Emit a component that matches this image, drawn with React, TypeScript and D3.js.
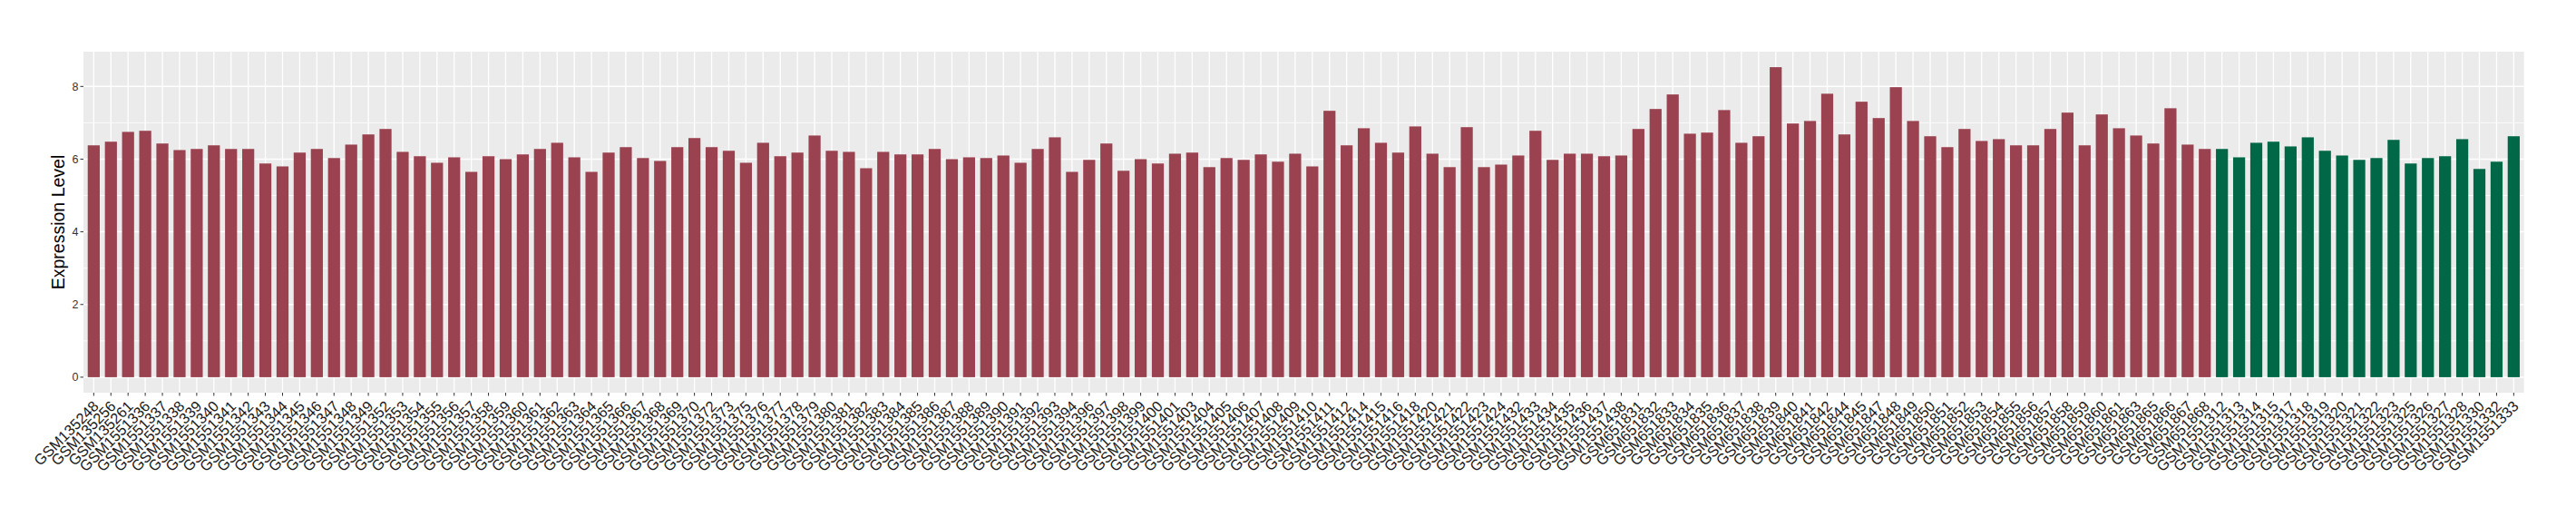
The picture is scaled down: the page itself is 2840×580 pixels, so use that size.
import React from "react";
import * as d3 from "d3";

// Group 1 (red) samples and expression values
const redSamples = [
  "GSM135248", "GSM135256", "GSM135261", "GSM1551336", "GSM1551337", "GSM1551338", "GSM1551339", "GSM1551340",
  "GSM1551341", "GSM1551342", "GSM1551343", "GSM1551344", "GSM1551345", "GSM1551346", "GSM1551347", "GSM1551348",
  "GSM1551349", "GSM1551352", "GSM1551353", "GSM1551354", "GSM1551355", "GSM1551356", "GSM1551357", "GSM1551358",
  "GSM1551359", "GSM1551360", "GSM1551361", "GSM1551362", "GSM1551363", "GSM1551364", "GSM1551365", "GSM1551366",
  "GSM1551367", "GSM1551368", "GSM1551369", "GSM1551370", "GSM1551372", "GSM1551373", "GSM1551375", "GSM1551376",
  "GSM1551377", "GSM1551378", "GSM1551379", "GSM1551380", "GSM1551381", "GSM1551382", "GSM1551383", "GSM1551384",
  "GSM1551385", "GSM1551386", "GSM1551387", "GSM1551388", "GSM1551389", "GSM1551390", "GSM1551391", "GSM1551392",
  "GSM1551393", "GSM1551394", "GSM1551396", "GSM1551397", "GSM1551398", "GSM1551399", "GSM1551400", "GSM1551401",
  "GSM1551403", "GSM1551404", "GSM1551405", "GSM1551406", "GSM1551407", "GSM1551408", "GSM1551409", "GSM1551410",
  "GSM1551411", "GSM1551412", "GSM1551414", "GSM1551415", "GSM1551416", "GSM1551418", "GSM1551420", "GSM1551421",
  "GSM1551422", "GSM1551423", "GSM1551424", "GSM1551432", "GSM1551433", "GSM1551434", "GSM1551435", "GSM1551436",
  "GSM1551437", "GSM1551438", "GSM651831", "GSM651832", "GSM651833", "GSM651834", "GSM651835", "GSM651836",
  "GSM651837", "GSM651838", "GSM651839", "GSM651840", "GSM651841", "GSM651842", "GSM651844", "GSM651845",
  "GSM651847", "GSM651848", "GSM651849", "GSM651850", "GSM651851", "GSM651852", "GSM651853", "GSM651854",
  "GSM651855", "GSM651856", "GSM651857", "GSM651858", "GSM651859", "GSM651860", "GSM651861", "GSM651863",
  "GSM651865", "GSM651866", "GSM651867", "GSM651868",
];
const redValues = [
  6.38, 6.48, 6.75, 6.78, 6.43, 6.25, 6.28, 6.38, 6.28, 6.28, 5.88, 5.8, 6.18, 6.28, 6.03, 6.4,
  6.68, 6.83, 6.2, 6.08, 5.9, 6.05, 5.65, 6.08, 6.0, 6.13, 6.28, 6.45, 6.05, 5.65, 6.18, 6.33,
  6.03, 5.95, 6.33, 6.58, 6.33, 6.23, 5.9, 6.45, 6.08, 6.18, 6.65, 6.23, 6.2, 5.75, 6.2, 6.13,
  6.13, 6.28, 6.0, 6.05, 6.03, 6.1, 5.9, 6.28, 6.6, 5.65, 5.98, 6.43, 5.68, 6.0, 5.88, 6.15,
  6.18, 5.78, 6.03, 5.98, 6.13, 5.93, 6.15, 5.8, 7.33, 6.38, 6.85, 6.45, 6.18, 6.9, 6.15, 5.78,
  6.88, 5.78, 5.85, 6.1, 6.78, 5.98, 6.15, 6.15, 6.08, 6.1, 6.83, 7.38, 7.78, 6.7, 6.73, 7.35,
  6.45, 6.63, 8.53, 6.98, 7.05, 7.8, 6.68, 7.58, 7.13, 7.98, 7.05, 6.63, 6.33, 6.83, 6.5, 6.55,
  6.38, 6.38, 6.83, 7.28, 6.38, 7.23, 6.85, 6.65, 6.43, 7.4, 6.4, 6.28,
];

// Group 2 (green) samples and expression values
const greenSamples = [
  "GSM1551312", "GSM1551313", "GSM1551314", "GSM1551315", "GSM1551317", "GSM1551318", "GSM1551319", "GSM1551320",
  "GSM1551321", "GSM1551322", "GSM1551323", "GSM1551325", "GSM1551326", "GSM1551327", "GSM1551328", "GSM1551330",
  "GSM1551332", "GSM1551333",
];
const greenValues = [
  6.28, 6.05, 6.45, 6.48, 6.35, 6.6, 6.23, 6.1, 5.98, 6.03, 6.53, 5.88, 6.03, 6.08, 6.55, 5.73, 5.93, 6.63,
];

const yTicks = [0, 2, 4, 6, 8];
const yMinor = [1, 3, 5, 7];

const RED = "#9A4250";
const GREEN = "#006846";

export default function App() {
  const data = [
    ...redSamples.map((s, i) => ({ sample: s, value: redValues[i], color: RED })),
    ...greenSamples.map((s, i) => ({ sample: s, value: greenValues[i], color: GREEN })),
  ];
  const left = 92;
  const right = 2782.7;
  const top = 57;
  const bottom = 433;

  const x = d3
    .scaleBand<string>()
    .domain(data.map((d) => d.sample))
    .range([left, right])
    .paddingInner(0.3)
    .paddingOuter(0.25);
  const ymax = d3.max(data, (d) => d.value) as number;
  const pad = ymax * 0.05;
  const y = d3.scaleLinear().domain([-pad, ymax + pad]).range([bottom, top]);
  const bw = x.bandwidth();
  const cx = (s: string) => (x(s) as number) + bw / 2;

  const font = "'Liberation Sans', Arial, Helvetica, sans-serif";

  return (
    <svg
      width={2840}
      height={580}
      style={{ position: "absolute", left: 0, top: 0, display: "block", background: "#fff" }}
      fontFamily={font}
    >
      <rect x={left} y={top} width={right - left} height={bottom - top} fill="#EBEBEB" />
      {yMinor.map((t) => (
        <line key={"ym" + t} x1={left} x2={right} y1={y(t)} y2={y(t)} stroke="#fff" strokeWidth={0.8} />
      ))}
      {yTicks.map((t) => (
        <line key={"yg" + t} x1={left} x2={right} y1={y(t)} y2={y(t)} stroke="#fff" strokeWidth={1.5} />
      ))}
      {data.map((d) => (
        <line key={"xg" + d.sample} x1={cx(d.sample)} x2={cx(d.sample)} y1={top} y2={bottom} stroke="#fff" strokeWidth={1.3} />
      ))}
      {data.map((d) => (
        <rect
          key={"b" + d.sample}
          x={x(d.sample)}
          width={bw}
          y={y(d.value)}
          height={y(0) - y(d.value)}
          fill={d.color}
        />
      ))}
      {yTicks.map((t) => (
        <g key={"yt" + t}>
          <line x1={left - 3.5} x2={left} y1={y(t)} y2={y(t)} stroke="#333" strokeWidth={1} />
          <text x={left - 5.5} y={y(t)} dy="0.35em" textAnchor="end" fontSize={12.5} fill="#333">
            {t}
          </text>
        </g>
      ))}
      {data.map((d) => (
        <g key={"xt" + d.sample}>
          <line x1={cx(d.sample)} x2={cx(d.sample)} y1={bottom} y2={bottom + 3.5} stroke="#333" strokeWidth={1} />
          <text
            transform={`translate(${cx(d.sample) + 6.5},${bottom + 16}) rotate(-45)`}
            textAnchor="end"
            fontSize={16.5}
            fill="#1a1a1a"
          >
            {d.sample}
          </text>
        </g>
      ))}
      <text
        transform={`translate(71,${(top + bottom) / 2}) rotate(-90)`}
        textAnchor="middle"
        fontSize={19.5}
        fill="#000"
      >
        Expression Level
      </text>
    </svg>
  );
}
